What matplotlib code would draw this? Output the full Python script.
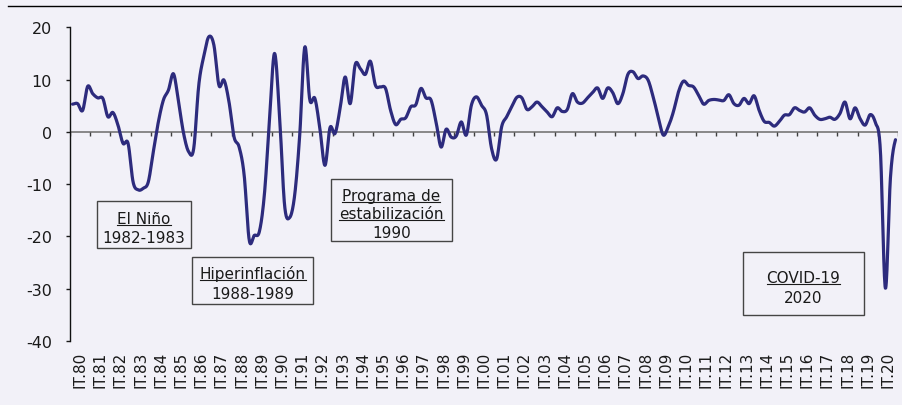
import numpy as np
import matplotlib
matplotlib.use("Agg")
import matplotlib.pyplot as plt
from matplotlib.lines import Line2D
from matplotlib.patches import Rectangle

plt.rcParams['axes.unicode_minus'] = False

# Quarterly GDP growth (%), IT.80 .. IVT.20, one list per decade
growth_80s = [5.3, 5.4, 4.1, 8.7, 7.3, 6.5, 6.4, 2.9, 3.7, 1.3, -2.2, -2.2,
              -9.6, -11.1, -10.8, -9.6, -3.8, 1.9, 6.1, 8.0, 11.1, 5.7, -0.3, -3.8,
              -3.2, 8.9, 14.5, 18.2, 16.6, 8.9, 9.9, 5.7, -1.0, -2.9, -8.3, -20.7,
              -19.8, -19.1, -12.0, 2.0]
growth_90s = [15.0, 3.2, -14.0, -16.4, -12.1, -0.6, 16.2, 6.1, 6.4, 0.6, -6.4, 0.8,
              -0.3, 4.5, 10.5, 5.4, 12.9, 12.1, 11.0, 13.5, 8.9, 8.6, 8.3, 4.1,
              1.4, 2.4, 2.7, 4.8, 5.2, 8.3, 6.5, 6.1, 1.9, -2.9, 0.5, -1.0,
              -0.8, 1.9, -0.6, 5.1]
growth_00s = [6.7, 5.1, 3.3, -3.2, -5.2, 1.0, 2.9, 4.8, 6.6, 6.5, 4.3, 4.8,
              5.7, 4.8, 3.8, 2.9, 4.6, 3.9, 4.3, 7.3, 5.7, 5.5, 6.5, 7.5,
              8.4, 6.4, 8.4, 7.5, 5.4, 7.3, 11.0, 11.5, 10.2, 10.7, 9.9, 6.7,
              2.9, -0.6, 1.0, 3.8]
growth_10s = [7.6, 9.7, 8.9, 8.6, 7.0, 5.3, 6.0, 6.2, 6.1, 6.0, 7.1, 5.4,
              5.1, 6.4, 5.4, 6.9, 4.1, 2.0, 1.8, 1.1, 2.0, 3.2, 3.3, 4.6,
              4.1, 3.8, 4.6, 3.2, 2.4, 2.5, 2.8, 2.4, 3.5, 5.7, 2.5, 4.6,
              2.5, 1.3, 3.3, 1.8]
growth_20 = [-3.4, -29.9, -8.8, -1.5]

years = list(range(1980, 2021))
year_labels = [f"IT.{y % 100:02d}" for y in years]

growth = np.array(growth_80s + growth_90s + growth_00s + growth_10s + growth_20)
n = len(growth)

W, H = 902, 406
bg = '#F2F1F8'
navy = '#2D2B7D'


def smooth(y, steps=16):
    """Catmull-Rom curve through the points, like Excel's smoothed line."""
    p = np.concatenate([[y[0]], y, [y[-1]]])
    xs, ys = [], []
    t = np.linspace(0, 1, steps, endpoint=False)
    for i in range(len(y) - 1):
        p0, p1, p2, p3 = p[i], p[i + 1], p[i + 2], p[i + 3]
        seg = 0.5 * ((2 * p1) + (-p0 + p2) * t +
                     (2 * p0 - 5 * p1 + 4 * p2 - p3) * t ** 2 +
                     (-p0 + 3 * p1 - 3 * p2 + p3) * t ** 3)
        xs.append(i + t)
        ys.append(seg)
    xs.append([len(y) - 1])
    ys.append([y[-1]])
    return np.concatenate(xs), np.concatenate(ys)


def px(x, y):
    return x / W, 1 - y / H


fig = plt.figure(figsize=(W / 100, H / 100), dpi=100, facecolor=bg)
ax = fig.add_axes([70 / W, 1 - 342 / H, 828 / W, (342 - 28.3) / H])
ax.set_facecolor(bg)

sx, sy = smooth(growth)
ax.plot(sx, sy, color=navy, lw=2.3, zorder=3, solid_capstyle='round')

ax.axhline(0, color='#808080', lw=1.3, zorder=2)
ax.vlines(np.arange(0, n + 1, 4) - 0.5, -0.75, 0, color='#404040', lw=1, zorder=2)

ax.set_xlim(-0.5, n - 0.5)
ax.set_ylim(-40, 20)
ax.set_yticks(range(-40, 21, 10))
ax.tick_params(axis='y', direction='out', length=3, width=1, pad=10,
               labelsize=11.5, colors='#1a1a1a')
ax.set_xticks(np.arange(len(years)) * 4 + 1.5)
ax.set_xticklabels(year_labels, rotation=90, fontsize=11, color='#1a1a1a')
ax.tick_params(axis='x', length=0, pad=7)

for s in ['top', 'right', 'bottom']:
    ax.spines[s].set_visible(False)
ax.spines['left'].set_color('#111111')
ax.spines['left'].set_linewidth(1)

# top rule
fig.add_artist(Line2D([8 / W, 1], [1 - 7 / H] * 2, color='black', lw=1))

# annotation boxes: (x0, y0, x1, y1) in pixels, lines: (text, baseline, underlined)
notes = [
    ((96.7, 202.3, 191.3, 249.3), [("El Niño", 224.3, True), ("1982-1983", 243.0, False)]),
    ((192.0, 258.3, 313.3, 305.3), [("Hiperinflación", 279.3, True), ("1988-1989", 299.3, False)]),
    ((330.7, 180.0, 452.0, 242.3), [("Programa de", 201.0, True), ("estabilización", 219.0, True),
                                     ("1990", 238.3, False)]),
    ((742.7, 253.3, 864.3, 316.0), [("COVID-19", 283.3, True), ("2020", 302.7, False)]),
]

underlined = []
for (x0, y0, x1, y1), lines in notes:
    fig.add_artist(Rectangle(px(x0, y1), (x1 - x0) / W, (y1 - y0) / H,
                             transform=fig.transFigure, fill=False,
                             ec='#454545', lw=1))
    for text, base, under in lines:
        t = fig.text(*px((x0 + x1) / 2, base), text, ha='center', va='baseline',
                     fontsize=11, color='#1a1a1a')
        if under:
            underlined.append((t, base + 2))

fig.canvas.draw()
renderer = fig.canvas.get_renderer()
for t, uy in underlined:
    bb = t.get_window_extent(renderer)
    fig.add_artist(Line2D([bb.x0 / W, bb.x1 / W], [1 - uy / H] * 2,
                          color='#1a1a1a', lw=0.8))

fig.savefig('out.png', dpi=100, facecolor=bg)
